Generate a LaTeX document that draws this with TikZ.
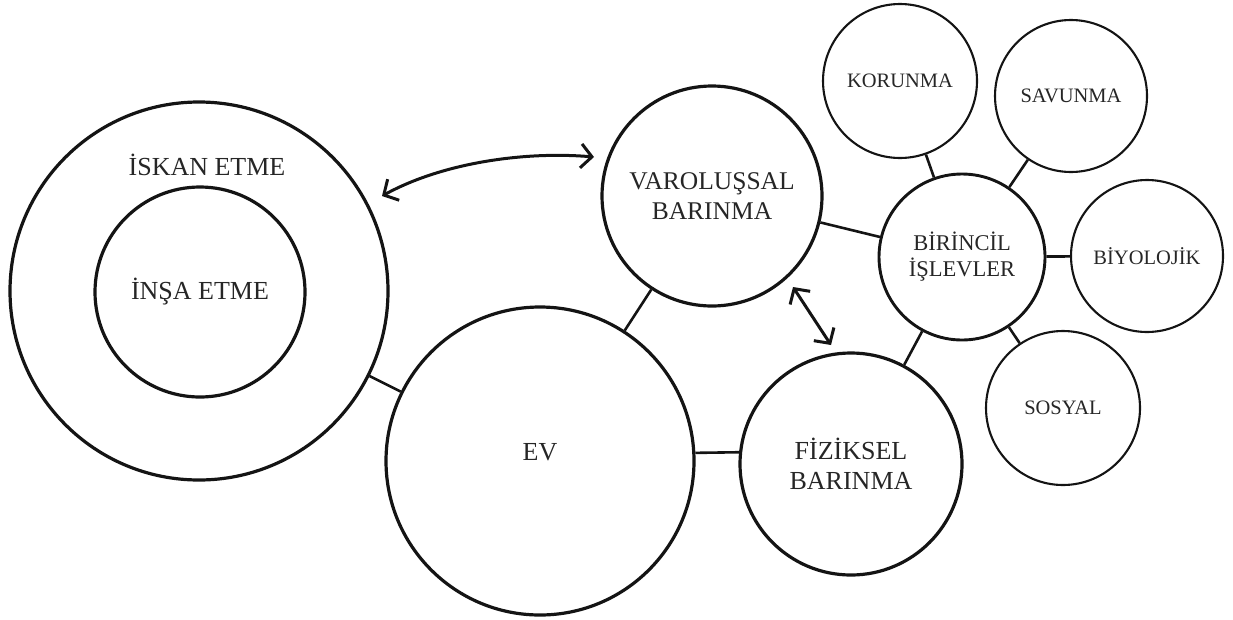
\documentclass[tikz,border=0pt]{standalone}
\usepackage{fontspec}
\setmainfont{Liberation Serif}
\usetikzlibrary{arrows.meta}
\definecolor{ink}{HTML}{141414}
\definecolor{txtc}{HTML}{262626}
\begin{document}
\begin{tikzpicture}[x=1pt,y=-1pt,
  ring/.style={circle, draw=ink, line width=3.2pt, inner sep=0pt, text=txtc,
               align=center, font=\fontsize{26}{30}\selectfont},
  hub/.style={ring, line width=2.9pt, font=\fontsize{22.5}{26}\selectfont},
  leaf/.style={ring, line width=2.1pt, font=\fontsize{20.5}{24}\selectfont},
  link/.style={draw=ink, line width=2.6pt},
  dbl/.style={draw=ink, line width=3pt,
              {Straight Barb[length=11pt,width=24pt]}-{Straight Barb[length=11pt,width=24pt]}},
  lbl/.style={text=txtc, inner sep=0pt, font=\fontsize{26}{30}\selectfont}]
\useasboundingbox (0,0) rectangle (1233,619);

% dwelling and building
\node[ring, minimum size=378pt] (iskan) at (199,291) {};
\node[lbl] (iskantxt) at (207,165) {İSKAN ETME};
\node[ring, minimum size=210pt] (insa) at (200,292) {İNŞA ETME};

% house and the two kinds of shelter
\node[ring, minimum size=308pt] (ev) at (540,461) {};
\node[lbl] (evtxt) at (540,452) {EV};
\node[ring, minimum size=220pt, font=\fontsize{25.5}{30}\selectfont] (var) at (712,196) {VAROLUŞSAL\\BARINMA};
\node[ring, minimum size=222pt] (fiz) at (851,464) {FİZİKSEL\\BARINMA};

% primary functions and their branches
\node[hub, minimum size=166pt] (bir) at (962,257) {BİRİNCİL\\İŞLEVLER};
\node[leaf, minimum size=154pt] (kor) at (900,81) {KORUNMA};
\node[leaf, minimum size=152pt] (sav) at (1071,96) {SAVUNMA};
\node[leaf, minimum size=152pt] (biyo) at (1147,256) {BİYOLOJİK};
\node[leaf, minimum size=154pt] (sos) at (1063,408) {SOSYAL};

% connectors
\draw[link] (iskan) -- (ev);
\draw[link] (var) -- (ev);
\draw[link] (ev.3) -- (fiz.174);
\draw[link] (var) -- (bir);
\draw[link] (bir) -- (fiz);
\draw[link] (bir) -- (kor);
\draw[link] (bir) -- (sav);
\draw[link] (bir) -- (biyo);
\draw[link] (bir) -- (sos);

% two-way arrows
\coordinate (a1) at (382,196);
\coordinate (a2) at (594,157);
\draw[dbl] (a1) .. controls (442,163) and (524,151) .. (a2);
\coordinate (b1) at (793,287);
\coordinate (b2) at (831,345);
\draw[dbl] (b1) -- (b2);
\end{tikzpicture}
\end{document}
